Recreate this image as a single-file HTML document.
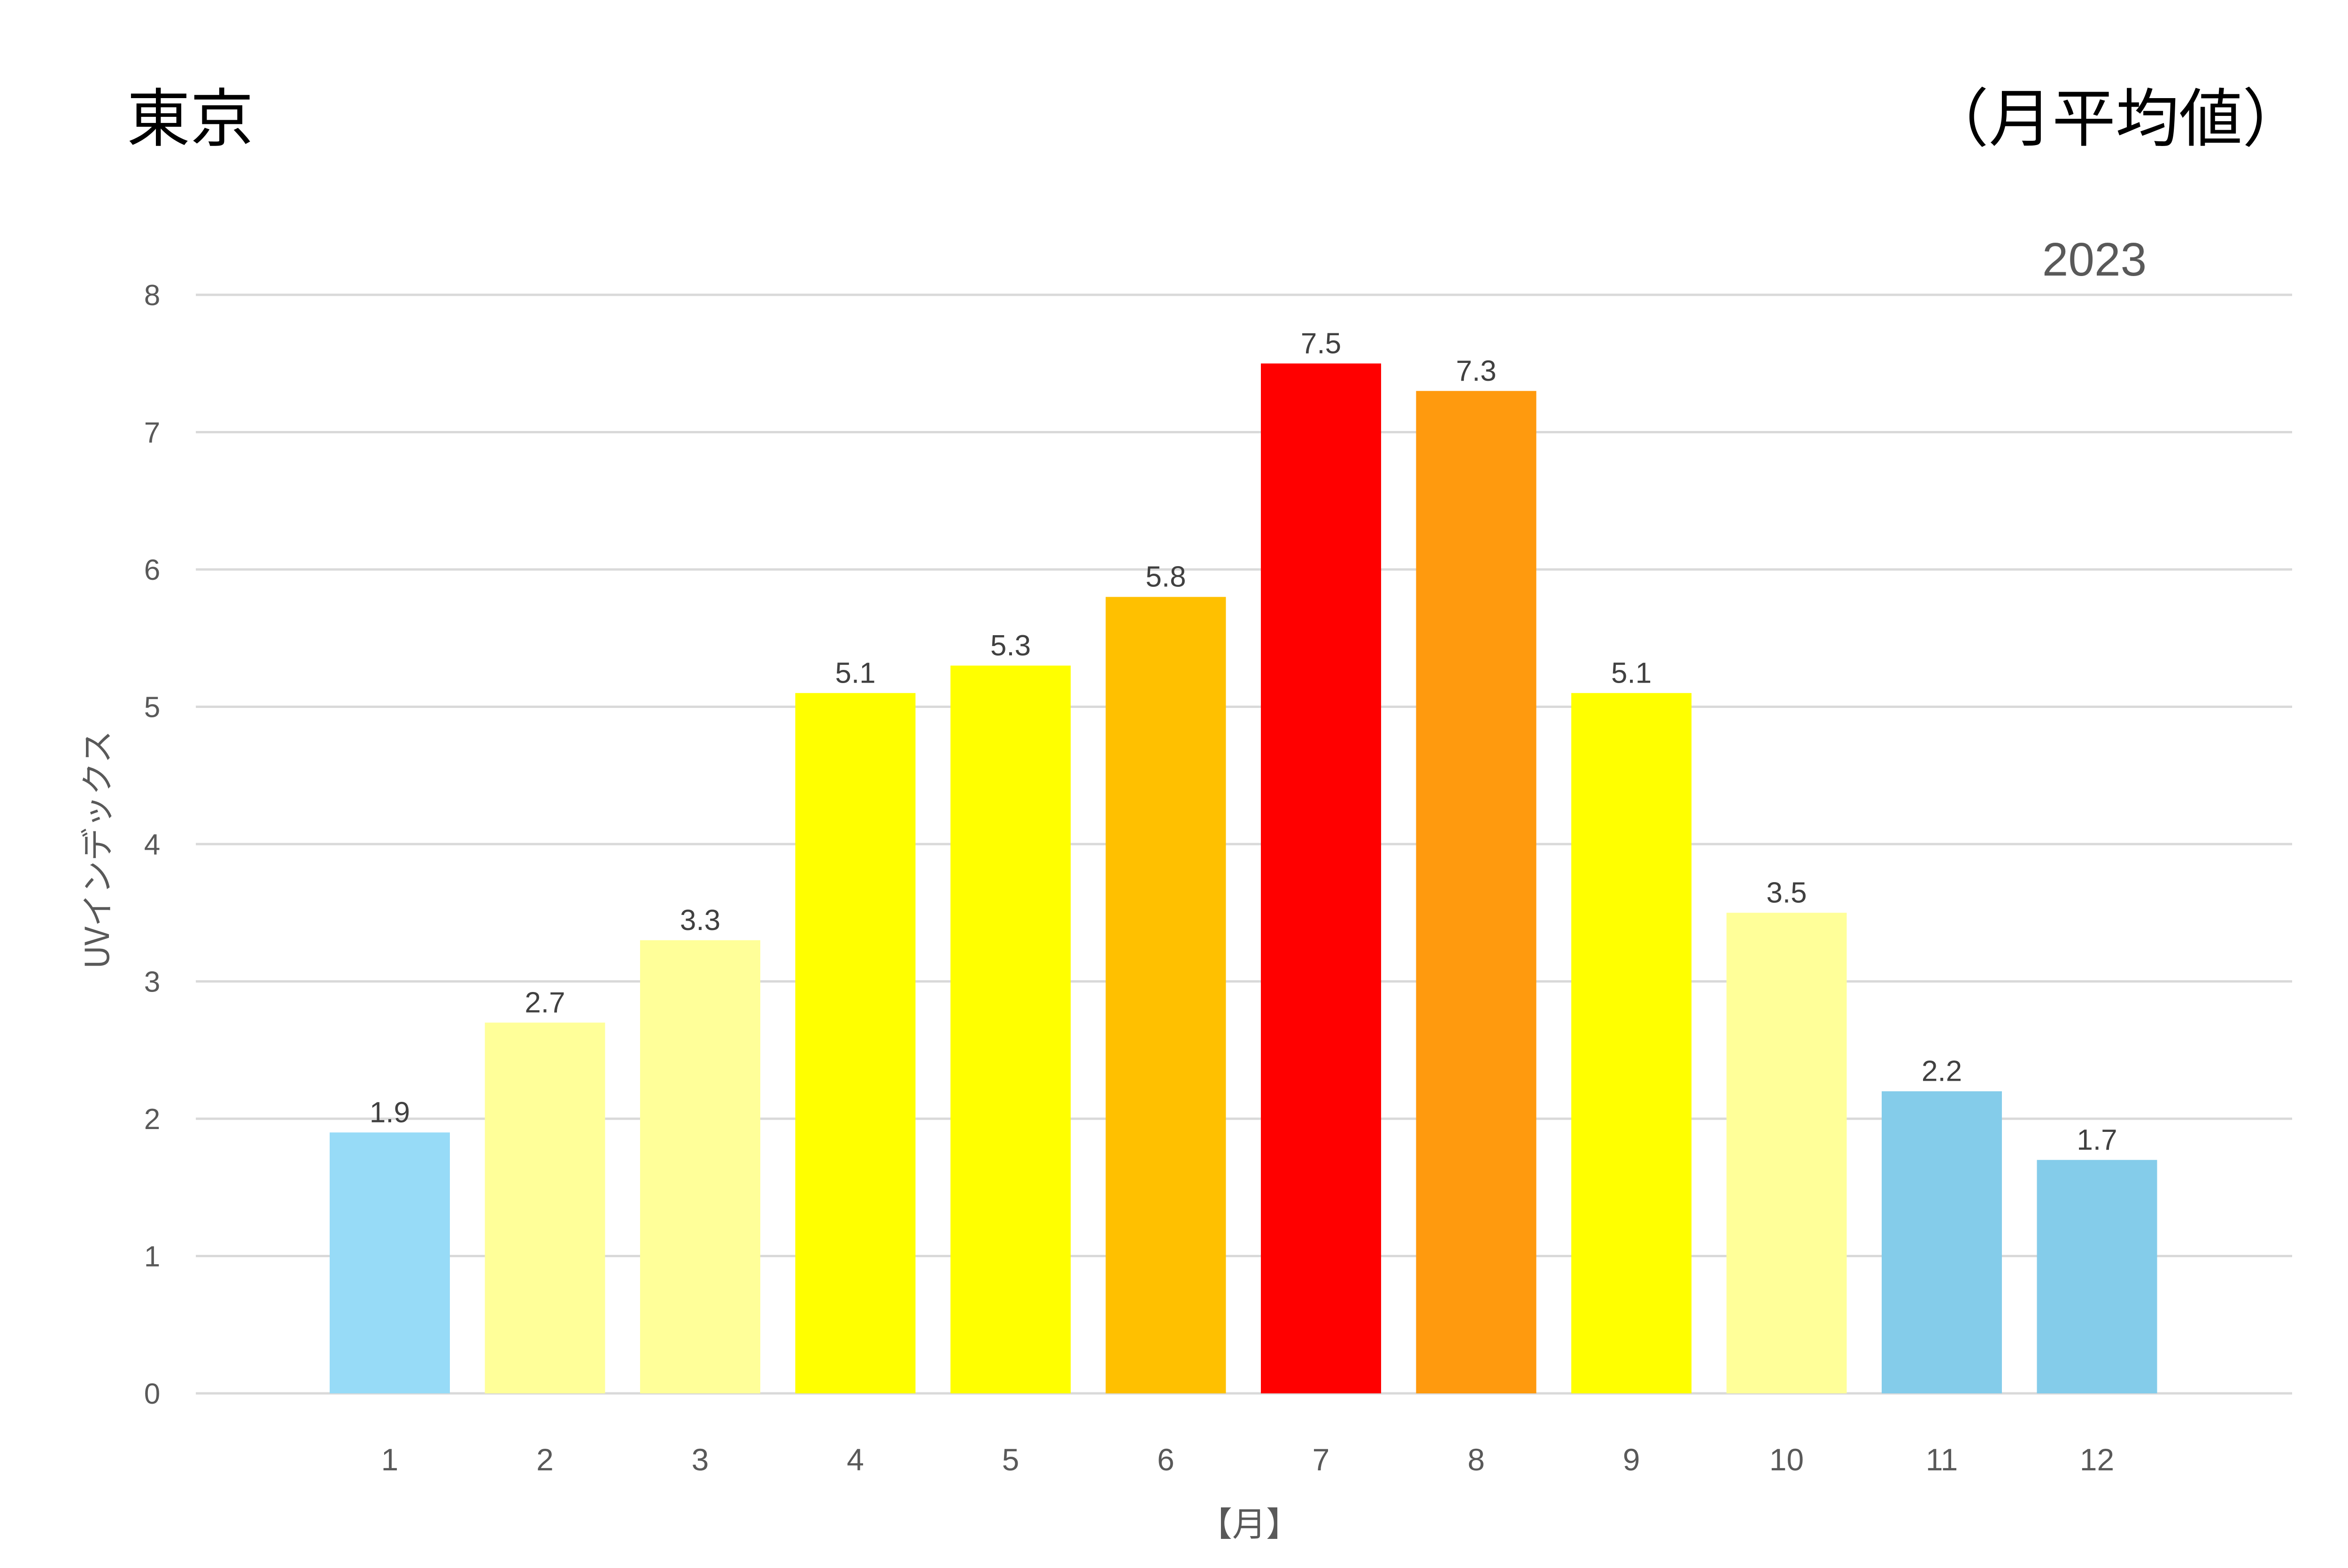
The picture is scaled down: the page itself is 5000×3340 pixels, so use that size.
<!DOCTYPE html>
<html><head><meta charset="utf-8"><style>
html,body{margin:0;padding:0;background:#fff;}
svg{display:block;}
text{font-family:"Liberation Sans","Noto Sans CJK JP",sans-serif;}
</style></head><body>
<svg id="chart" width="5000" height="3340" viewBox="0 0 5000 3340" xmlns="http://www.w3.org/2000/svg">
<rect width="5000" height="3340" fill="#fff"/>
<text x="270" y="300" font-size="135" fill="#000" style="font-family:'Noto Sans CJK JP',sans-serif">東京</text>
<text x="4910" y="300" font-size="135" fill="#000" text-anchor="end" style="font-family:'Noto Sans CJK JP',sans-serif">（月平均値）</text>
<text x="4460" y="587" font-size="100" fill="#595959" text-anchor="middle">2023</text>
<g id="grid"></g>
<g id="bars"></g>
<text transform="translate(232,1810) rotate(-90)" font-size="70" fill="#595959" text-anchor="middle" style="font-family:'Noto Sans CJK JP',sans-serif">UVインデックス</text>
<text x="2660" y="3272" font-size="72" fill="#595959" text-anchor="middle" style="font-family:'Noto Sans CJK JP',sans-serif">【月】</text>
</svg>
<script>
const categories = ["1","2","3","4","5","6","7","8","9","10","11","12"];
const values = [1.9, 2.7, 3.3, 5.1, 5.3, 5.8, 7.5, 7.3, 5.1, 3.5, 2.2, 1.7];
const barColors = ["#97DBF7","#FFFF99","#FFFF99","#FFFF00","#FFFF00","#FFC000","#FF0000","#FF9A0E","#FFFF00","#FFFF99","#84CCEA","#84CCEA"];
const yTicks = [0,1,2,3,4,5,6,7,8];

const NS = "http://www.w3.org/2000/svg";
const y0 = 2968, yTop = 628, yMax = 8;
const xLeft = 417, xRight = 4881;
const firstCenter = 830, step = 330.5, barW = 256;
function yScale(v){ return y0 - (v / yMax) * (y0 - yTop); }
function xScale(i){ return firstCenter + i * step; }

const grid = document.getElementById('grid');
yTicks.forEach(t => {
  const ln = document.createElementNS(NS, 'line');
  
  
  ln.setAttribute('x1', xLeft); ln.setAttribute('x2', xRight);
  ln.setAttribute('y1', yScale(t)); ln.setAttribute('y2', yScale(t));
  ln.setAttribute('stroke', '#d9d9d9'); ln.setAttribute('stroke-width', '5');
  grid.appendChild(ln);
  const tx = document.createElementNS(NS, 'text');
  
  
  tx.setAttribute('x', 324); tx.setAttribute('y', yScale(t) + 22);
  tx.setAttribute('font-size', '62'); tx.setAttribute('fill', '#595959');
  tx.setAttribute('text-anchor', 'middle');
  tx.textContent = t;
  grid.appendChild(tx);
});

const bars = document.getElementById('bars');
values.forEach((v, i) => {
  const cx = xScale(i);
  const r = document.createElementNS(NS, 'rect');
  
  
  r.setAttribute('x', cx - barW / 2); r.setAttribute('width', barW);
  r.setAttribute('y', yScale(v)); r.setAttribute('height', y0 - yScale(v));
  r.setAttribute('fill', barColors[i]);
  bars.appendChild(r);
  const lb = document.createElementNS(NS, 'text');
  
  
  lb.setAttribute('x', cx); lb.setAttribute('y', yScale(v) - 22);
  lb.setAttribute('font-size', '62'); lb.setAttribute('fill', '#404040');
  lb.setAttribute('text-anchor', 'middle');
  lb.textContent = v.toFixed(1);
  bars.appendChild(lb);
  const xl = document.createElementNS(NS, 'text');
  
  
  xl.setAttribute('x', cx); xl.setAttribute('y', 3132);
  xl.setAttribute('font-size', '66'); xl.setAttribute('fill', '#595959');
  xl.setAttribute('text-anchor', 'middle');
  xl.textContent = categories[i];
  bars.appendChild(xl);
});
</script>
</body></html>
